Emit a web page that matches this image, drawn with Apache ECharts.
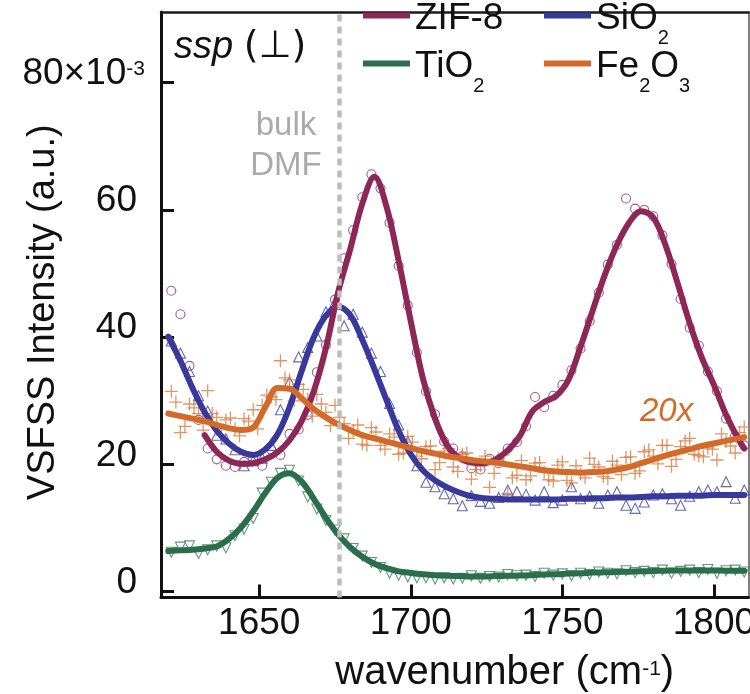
<!DOCTYPE html>
<html><head><meta charset="utf-8">
<script src="https://cdn.jsdelivr.net/npm/echarts@6/dist/echarts.min.js"></script>
<style>html,body{margin:0;padding:0;background:#fff}#c{width:750px;height:694px}</style>
</head><body><div id="c"></div>
<script>
// ---- data ----
const fitWn = [1620,1624,1628,1632,1636,1640,1644,1648,1652,1656,1660,1664,1668,1672,1676,1680,1684,1688,1692,1696,1700,1704,1708,1712,1716,1720,1724,1728,1732,1736,1740,1744,1748,1752,1756,1760,1764,1768,1772,1776,1780,1784,1788,1792,1796,1800,1804,1808,1810];
const zifFit = [null,null,null,24.6,22.0,20.6,20.1,20.2,20.8,21.9,23.8,26.8,31.5,38.3,47.0,53.8,61.0,65.2,60.5,52.0,42.5,33.5,27.2,23.0,21.0,20.3,20.2,20.8,22.2,24.5,28.3,29.8,30.8,33.3,38.5,44.2,49.8,54.5,58.0,59.8,58.8,54.5,48.5,42.2,36.8,32.5,27.8,24.0,22.5];
const sioFit = [40.1,36.3,32.0,28.2,25.3,23.3,22.0,21.5,22.4,24.7,29.0,34.7,40.0,43.4,44.8,43.5,39.6,35.0,30.1,25.3,21.6,19.1,17.5,16.4,15.6,15.0,14.7,14.6,14.5,14.5,14.5,14.5,14.5,14.6,14.6,14.7,14.7,14.8,14.8,14.9,15.0,15.0,15.1,15.1,15.1,15.2,15.2,15.2,15.2];
const tioFit = [6.4,6.5,6.6,6.8,7.1,8.3,10.1,12.6,15.5,17.9,18.6,17.3,14.6,11.6,9.0,7.0,5.5,4.4,3.7,3.2,2.95,2.75,2.6,2.5,2.45,2.4,2.4,2.45,2.5,2.55,2.6,2.7,2.75,2.85,2.9,3.0,3.05,3.1,3.15,3.2,3.25,3.3,3.35,3.35,3.35,3.35,3.3,3.3,3.3];
const feFit = [28.0,27.6,27.2,26.8,26.2,25.7,25.4,25.8,29.0,32.0,31.9,30.4,28.7,27.4,26.3,25.4,24.6,24.1,23.6,23.1,22.6,22.1,21.7,21.3,21.0,20.7,20.5,20.3,20.0,19.7,19.4,19.1,18.9,18.8,18.7,18.8,18.9,19.2,19.6,20.2,20.8,21.4,21.9,22.4,22.9,23.3,23.7,24.1,24.3];

const dotWn = [1621,1624,1627,1630,1633,1636,1639,1642,1645,1648,1651,1654,1657,1660,1663,1666,1669,1672,1675,1678,1681,1684,1687,1690,1693,1696,1699,1702,1705,1708,1711,1714,1717,1720,1723,1726,1729,1732,1735,1738,1741,1744,1747,1750,1753,1756,1759,1762,1765,1768,1771,1774,1777,1780,1783,1786,1789,1792,1795,1798,1801,1804,1807,1810];
const zifDots = [47.3,43.6,35.5,27.0,22.5,20.8,19.8,19.6,20.4,21.0, 19.8,22.3,21.5,24.8,25.5,27.8,34.5,38.8,45.9,52.4, 56.8,62.0,65.6,63.4,58.0,51.2,45.0,37.6,31.5,27.9, 23.6,22.5,21.3,19.4,19.2,20.9,20.2,22.5,23.5,26.0, 30.6,29.0,30.8,32.5,34.8,38.2,42.5,47.0,51.4,54.5, 61.8,60.2,60.0,59.0,56.0,51.5,46.0,41.5,38.7,34.6, 31.5,27.2,24.5,23.0];
const sioDots = [39.4,37.5,34.6,30.8,28.4,24.6,24.0,22.3,19.8,20.6, 21.0,23.0,28.6,33.0,36.9,38.4,40.2,44.0,45.5,41.8, 43.6,40.8,37.5,34.6,29.6,26.2,23.6,19.8,17.2,16.5, 15.4,14.6,13.5,15.1,14.2,13.9,14.8,16.0,15.7,15.3, 14.4,15.7,14.0,14.4,16.5,14.6,15.0,13.9,15.2,15.7, 13.6,13.1,14.1,15.2,15.4,14.6,13.6,15.0,15.7,16.0, 15.7,17.3,14.7,16.0];
const tioDots = [6.2,7.0,7.2,6.0,6.6,7.2,6.9,8.8,9.8,11.5, 15.5,17.2,18.6,19.1,17.4,14.9,13.0,11.2,9.7,8.3, 6.8,5.6,4.6,3.8,2.9,2.6,2.3,2.2,2.2,2.0, 2.2,2.0,2.1,2.5,2.1,2.4,2.3,2.7,2.5,2.6, 2.4,2.9,2.6,2.8,2.5,2.9,2.7,3.1,2.9,2.8, 3.3,3.0,3.2,3.0,3.4,2.9,3.2,3.4,3.0,3.5, 2.9,3.3,3.4,3.1];
const feDots = [31.5,25.0,29.5,28.0,31.6,27.4,27.0,25.6,27.2,28.6, 29.3,30.6,36.3,33.3,32.6,30.2,31.0,28.2,29.3,26.4, 25.3,23.2,25.8,23.0,24.8,21.6,24.4,21.3,22.8,19.2, 22.1,19.6,21.6,17.7,19.8,16.4,20.9,15.4,18.3,17.6, 20.2,18.8,17.4,20.4,17.1,18.5,21.0,19.6,17.8,19.9, 21.1,18.6,22.0,21.3,23.0,19.7,22.8,24.1,21.4,22.6, 20.7,23.6,21.8,25.9];
const feWnB = [1622.5,1625.5,1628.5,1631.5,1634.5,1637.5,1640.5,1643.5,1646.5,1649.5,1652.5,1655.5,1658.5,1661.5,1664.5,1667.5,1670.5,1673.5,1676.5,1679.5,1682.5,1685.5,1688.5,1691.5,1694.5,1697.5,1700.5,1703.5,1706.5,1709.5,1712.5,1715.5,1718.5,1721.5,1724.5,1727.5,1730.5,1733.5,1736.5,1739.5,1742.5,1745.5,1748.5,1751.5,1754.5,1757.5,1760.5,1763.5,1766.5,1769.5,1772.5,1775.5,1778.5,1781.5,1784.5,1787.5,1790.5,1793.5,1796.5,1799.5,1802.5,1805.5,1808.5];
const feDotsB = [29.8,26.0,28.9,25.4,28.0,24.6,27.3,24.5,26.8,25.6, 30.9,30.2,33.6,30.0,31.8,27.6,29.5,26.1,27.4,24.1, 26.2,23.0,25.1,22.4,24.3,21.8,23.5,20.9,22.9,20.3, 22.5,18.9,21.8,19.2,21.3,18.6,21.5,17.9,20.6,18.2, 20.3,17.6,19.9,17.5,19.8,17.9,20.0,18.1,20.5,18.4, 21.2,19.0,22.3,20.1,23.0,20.8,23.7,21.6,21.2,22.4, 24.8,22.9,25.0];

const xTicks = [1650,1700,1750,1800];
const yTicks = [0,20,40,60,80];
const bulkDMF = 1676.5;

// ---- styling ----
const FONT = '"Liberation Sans", Arial, sans-serif';
const C = {zif:'#8c2757', sio:'#38399a', tio:'#2b6e4b', fe:'#d46a2a'};
const XR = [1617.6, 1811.4], YR = [-0.91, 91.11];

const pairs = (xs, ys) => xs.map((x, i) => [x, ys[i]]);

function fitSeries(name, ys, color) {
  return {name, type:'line', data: pairs(fitWn, ys), showSymbol:false, symbol:'none',
    smooth:0.35, z:3, color, itemStyle:{color},
    lineStyle:{color, width:6, cap:'round', join:'round'}};
}
function dotSeries(name, xs, ys, color, symbol, size, extra) {
  return Object.assign({name, type:'scatter', data: pairs(xs, ys), symbol, symbolSize:size, z:2,
    itemStyle:{color:'rgba(0,0,0,0)', borderColor:color, borderWidth:1.1, opacity:0.85}}, extra || {});
}
const plusStyle = {itemStyle:{color:'rgba(0,0,0,0)', borderColor:'#d97a3e', borderWidth:1.3, opacity:0.8}};

const legRich = {
  m:{fontSize:37, fontFamily:FONT, color:'#111', padding:[17.5,0,11.5,0], verticalAlign:'top'},
  s:{fontSize:20, fontFamily:FONT, color:'#111', padding:[46,0,0,0], verticalAlign:'top'}
};
const legLabels = {'ZIF-8':'{m|ZIF-8}', 'TiO2':'{m|TiO}{s|2}', 'SiO2':'{m|SiO}{s|2}', 'Fe2O3':'{m|Fe}{s|2}{m|O}{s|3}'};
function legend(name, left, top) {
  return {data:[name], left, top, padding:0, orient:'vertical', icon:'rect', itemWidth:47, itemHeight:6,
    selectedMode:false, formatter: n => legLabels[n],
    textStyle:{fontSize:37, fontFamily:FONT, color:'#111', rich:legRich}};
}

const option = {
  animation:false,
  backgroundColor:'#fff',
  textStyle:{fontFamily:FONT},
  grid:{left:161, right:1.5, top:12, bottom:96.5, containLabel:false, outerBoundsMode:'none'},
  xAxis:[{
    type:'value', min:XR[0], max:XR[1], position:'bottom',
    axisLine:{show:true, onZero:false, lineStyle:{color:'#111', width:3}},
    axisTick:{show:true, inside:true, length:13, customValues:xTicks, lineStyle:{color:'#111', width:3}},
    axisLabel:{customValues:xTicks, margin:8, fontSize:37, color:'#111', fontFamily:FONT,
      formatter: v => String(v)},
    splitLine:{show:false},
    name:'{m|wavenumber (cm}{s|-1}{m|)}', nameLocation:'middle', nameGap:55, nameMoveOverlap:false,
    nameTextStyle:{fontSize:40, color:'#111', fontFamily:FONT, padding:[0,0,0,100], rich:{
      m:{fontSize:40, fontFamily:FONT, color:'#111', verticalAlign:'top'},
      s:{fontSize:21, fontFamily:FONT, color:'#111', verticalAlign:'top', padding:[6,0,0,0]}}}
  },{
    type:'value', min:XR[0], max:XR[1], position:'top',
    axisLine:{show:true, onZero:false, lineStyle:{color:'#1a1a1a', width:2.5}},
    axisTick:{show:false}, axisLabel:{show:false}, splitLine:{show:false}
  }],
  yAxis:[{
    type:'value', min:YR[0], max:YR[1], position:'left',
    axisLine:{show:true, onZero:false, lineStyle:{color:'#111', width:3}},
    axisTick:{show:true, inside:true, length:13, customValues:yTicks, lineStyle:{color:'#111', width:3}},
    axisLabel:{customValues:yTicks, margin:16, padding:[0,0,18,0], color:'#111', fontSize:37, fontFamily:FONT,
      formatter: v => v === 80 ? '{a|80×10}{s|-3}' : '{n|' + v + '}',
      rich:{
        a:{fontSize:37, fontFamily:FONT, color:'#111', verticalAlign:'top'},
        s:{fontSize:21, fontFamily:FONT, color:'#111', verticalAlign:'top', padding:[4,0,0,0]},
        n:{fontSize:37, fontFamily:FONT, color:'#111', padding:[0,8,0,0]}
      }},
    splitLine:{show:false},
    name:'VSFSS Intensity (a.u.)', nameLocation:'middle', nameRotate:90, nameGap:98, nameMoveOverlap:false,
    nameTextStyle:{fontSize:38, color:'#111', fontFamily:FONT, padding:[0,15,0,0]}
  },{
    type:'value', min:YR[0], max:YR[1], position:'right',
    axisLine:{show:true, onZero:false, lineStyle:{color:'#555', width:1.5}},
    axisTick:{show:false}, axisLabel:{show:false}, splitLine:{show:false}
  }],
  legend:[legend('ZIF-8',363,0), legend('TiO2',363,48), legend('SiO2',544,0), legend('Fe2O3',544,48)],
  graphic:[
    {type:'text', x:174, y:47, z:10, style:{text:'{i|ssp} {n|(⊥)}', fontSize:38, fontFamily:FONT, fill:'#111',
      align:'left', verticalAlign:'middle',
      rich:{i:{fontSize:38, fontFamily:FONT, fontStyle:'italic', fill:'#111'},
            n:{fontSize:38, fontFamily:'"DejaVu Sans", ' + FONT, fill:'#111'}}}},
    {type:'text', x:286, y:126, z:10, style:{text:'bulk', fontSize:33, fontFamily:FONT, fill:'#aaaaaa', align:'center', verticalAlign:'middle'}},
    {type:'text', x:286, y:166, z:10, style:{text:'DMF', fontSize:33, fontFamily:FONT, fill:'#aaaaaa', align:'center', verticalAlign:'middle'}},
    {type:'text', x:640, y:412, z:10, style:{text:'20x', fontSize:33, fontFamily:FONT, fontStyle:'italic', fill:C.fe, align:'left', verticalAlign:'middle'}}
  ],
  series:[
    {name:'bulk DMF', type:'line', data:[], z:1, silent:true,
      markLine:{silent:true, symbol:['none','none'], label:{show:false},
        lineStyle:{color:'#bdbdbd', width:4.5, type:[7,5]}, data:[{xAxis:bulkDMF}]}},
    dotSeries('ZIF-8 data', dotWn, zifDots, '#97406a', 'circle', 9),
    dotSeries('SiO2 data', dotWn, sioDots, '#4a4ca6', 'triangle', 10),
    dotSeries('TiO2 data', dotWn, tioDots, '#4d8566', 'triangle', 10, {symbolRotate:180}),
    dotSeries('Fe2O3 data', dotWn, feDots, '#d97a3e', 'path://M5 0V10M0 5H10', 13, plusStyle),
    dotSeries('Fe2O3 data B', feWnB, feDotsB, '#d97a3e', 'path://M5 0V10M0 5H10', 13, plusStyle),
    fitSeries('SiO2', sioFit, C.sio),
    fitSeries('ZIF-8', zifFit, C.zif),
    fitSeries('TiO2', tioFit, C.tio),
    fitSeries('Fe2O3', feFit, C.fe)
  ]
};

const chart = echarts.init(document.getElementById('c'), null, {renderer:'canvas'});
chart.setOption(option);
</script>
</body></html>
